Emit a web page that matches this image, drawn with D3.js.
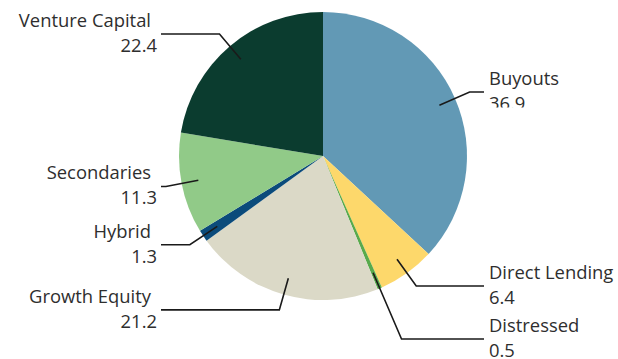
<!DOCTYPE html>
<html>
<head>
<meta charset="utf-8">
<script src="https://cdn.jsdelivr.net/npm/d3@7"></script>
<style>
  html, body { margin: 0; padding: 0; background: #fff; }
  svg { display: block; }
  text { font-family: "Open Sans", sans-serif; font-size: 18.4px; fill: #2e2e2e; }
</style>
</head>
<body>
<svg id="chart" width="618" height="359"></svg>
<script>
const categories = ["Buyouts", "Direct Lending", "Distressed", "Growth Equity", "Hybrid", "Secondaries", "Venture Capital"];
const values = [36.9, 6.4, 0.5, 21.2, 1.3, 11.3, 22.4];
const colors = ["#6299b5", "#fdd86b", "#58aa4c", "#dbd9c7", "#0b4b7b", "#91ca88", "#0b3c2f"];

const W = 618, H = 359;
const cx = 323, cy = 156, R = 144;
const svg = d3.select("#chart");

const data = categories.map((c, i) => ({ name: c, value: values[i], color: colors[i] }));
const pie = d3.pie().value(d => d.value).sort(null);
const arcs = pie(data);
const arc = d3.arc().innerRadius(0).outerRadius(R);

const g = svg.append("g").attr("transform", `translate(${cx},${cy})`);
g.selectAll("path").data(arcs).join("path")
  .attr("d", arc)
  .attr("fill", d => d.data.color);

// label layout
const rStart = 127, rElbow = 160, minGap = 53;
const labels = arcs.map(a => {
  const mid = (a.startAngle + a.endAngle) / 2;
  const s = Math.sin(mid), c = -Math.cos(mid);
  return { a, mid, s, c, right: s >= 0,
    x0: s * rStart, y0: c * rStart,
    y: c * rElbow };
});
["right", "left"].forEach(side => {
  const grp = labels.filter(l => (side === "right") === l.right).sort((p, q) => p.y - q.y);
  for (let i = 1; i < grp.length; i++) {
    if (grp[i].y - grp[i - 1].y < minGap) grp[i].y = grp[i - 1].y + minGap;
  }
});
labels.forEach(l => {
  const t = l.y / l.c;
  l.xe = l.s * t;
  l.xEnd = l.right ? 484 - cx : 161 - cx;
});

svg.append("defs").append("clipPath").attr("id", "clipTop")
  .append("rect").attr("x", 0).attr("y", 0).attr("width", W).attr("height", 107.5);

const lg = svg.append("g").attr("transform", `translate(${cx},${cy})`);
lg.selectAll("polyline").data(labels).join("polyline")
  .attr("points", l => `${l.x0},${l.y0} ${l.xe},${l.y} ${l.xEnd},${l.y}`)
  .attr("fill", "none")
  .attr("stroke", "#1a1a1a")
  .attr("stroke-width", 1.6);

labels.forEach(l => {
  const yAbs = l.y + cy;
  const t1 = svg.append("text")
    .attr("y", yAbs - 7)
    .text(l.a.data.name);
  const t2 = svg.append("text")
    .attr("y", yAbs + 18)
    .text(d3.format(".1f")(l.a.data.value));
  if (l.right) {
    t1.attr("x", 489).attr("text-anchor", "start");
    t2.attr("x", 489).attr("text-anchor", "start");
    if (l.a.data.name === "Buyouts") t2.attr("clip-path", "url(#clipTop)");
  } else {
    t1.attr("x", 151).attr("text-anchor", "end");
    t2.attr("x", 157).attr("text-anchor", "end");
  }
});
</script>
</body>
</html>
